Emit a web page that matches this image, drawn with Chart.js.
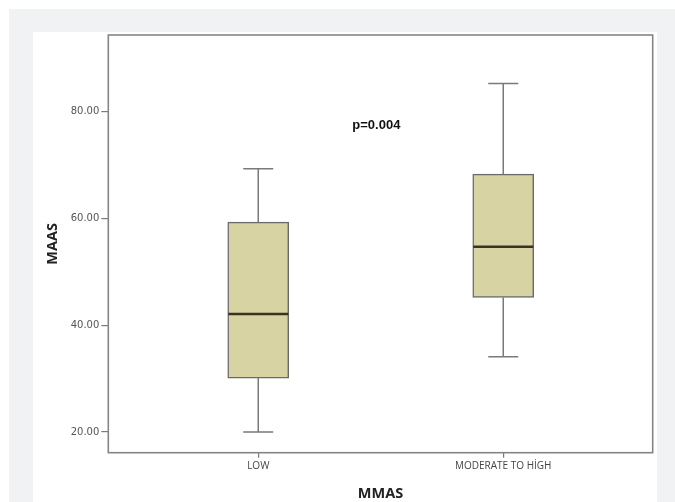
<!DOCTYPE html>
<html>
<head>
<meta charset="utf-8">
<script src="https://cdn.jsdelivr.net/npm/chart.js@4/dist/chart.umd.min.js"></script>
<style>
  html, body { margin: 0; padding: 0; background: #fff; }
  #wrap { position: relative; width: 675px; height: 502px; overflow: hidden; }
  #grey { position: absolute; left: 9px; top: 9px; right: 0; bottom: 0; background: #f1f2f4; }
  #panel { position: absolute; left: 33px; top: 32px; width: 624px; bottom: 0; background: #fff; }
  #chart { position: absolute; left: 0; top: 0; }
</style>
</head>
<body>
<div id="wrap">
  <div id="grey"></div>
  <div id="panel"></div>
  <canvas id="chart" width="675" height="502"></canvas>
</div>
<script>
// Box plot values
const categories = ['LOW', 'MODERATE TO HİGH'];
const mins = [20, 34.1];
const q1s = [30.1, 45.2];
const medians = [42.1, 54.7];
const q3s = [59.3, 68.3];
const maxs = [69.3, 85.3];
const yTickValues = [20, 40, 60, 80];
const pText = 'p=0.004';

const lineGrey = '#7a7a7a';

// whiskers, caps and medians drawn through the chart scales
const boxExtras = {
    id: 'boxExtras',
    afterDatasetsDraw(chart) {
        const ctx = chart.ctx;
        const xs = chart.scales.x;
        const ys = chart.scales.y;
        ctx.save();
        categories.forEach((c, i) => {
            const cx = xs.getPixelForValue(i);
            ctx.strokeStyle = lineGrey;
            ctx.lineWidth = 1.5;
            ctx.beginPath();
            ctx.moveTo(cx, ys.getPixelForValue(q3s[i]));
            ctx.lineTo(cx, ys.getPixelForValue(maxs[i]));
            ctx.moveTo(cx, ys.getPixelForValue(q1s[i]));
            ctx.lineTo(cx, ys.getPixelForValue(mins[i]));
            ctx.moveTo(cx - 15, ys.getPixelForValue(maxs[i]));
            ctx.lineTo(cx + 15, ys.getPixelForValue(maxs[i]));
            ctx.moveTo(cx - 15, ys.getPixelForValue(mins[i]));
            ctx.lineTo(cx + 15, ys.getPixelForValue(mins[i]));
            ctx.stroke();
            // median
            ctx.strokeStyle = '#3a3322';
            ctx.lineWidth = 2.5;
            ctx.beginPath();
            ctx.moveTo(cx - 30, ys.getPixelForValue(medians[i]));
            ctx.lineTo(cx + 30, ys.getPixelForValue(medians[i]));
            ctx.stroke();
        });
        // frame round the plot
        const a = chart.chartArea;
        ctx.strokeStyle = '#858585';
        ctx.lineWidth = 1.6;
        ctx.strokeRect(a.left, a.top, a.right - a.left, a.bottom - a.top);
        // p value
        ctx.fillStyle = '#111';
        ctx.font = 'bold 13px "Liberation Sans", Arial, sans-serif';
        ctx.textAlign = 'center';
        ctx.textBaseline = 'middle';
        ctx.fillText(pText, xs.getPixelForValue(0.482), ys.getPixelForValue(77.5));
        ctx.restore();
    }
};

const ctx = document.getElementById('chart').getContext('2d');
new Chart(ctx, {
    type: 'bar',
    data: {
        datasets: [{
            data: categories.map((c, i) => ({ x: i, y: [q1s[i], q3s[i]] })),
            backgroundColor: '#d8d3a2',
            borderColor: '#6a6a6a',
            borderWidth: 1.5,
            borderSkipped: false,
            barThickness: 61
        }]
    },
    options: {
        responsive: false,
        animation: false,
        layout: { padding: { left: 0, top: 35, right: 22.3, bottom: 0 } },
        plugins: { legend: { display: false }, tooltip: { enabled: false } },
        scales: {
            x: {
                type: 'linear',
                offset: false,
                min: -0.612,
                max: 1.61,
                afterFit: s => { s.height = 49.3; },
                afterBuildTicks: s => { s.ticks = categories.map((c, i) => ({ value: i })); },
                grid: { offset: false, drawOnChartArea: false, color: lineGrey, lineWidth: 1.2, tickLength: 5 },
                border: { display: false },
                ticks: {
                    callback: v => categories[v],
                    color: '#444',
                    font: { family: '"Open Sans", sans-serif', size: 10 },
                    padding: 2,
                    maxRotation: 0
                },
                title: {
                    display: true,
                    text: 'MMAS',
                    color: '#222',
                    font: { family: '"Open Sans", sans-serif', size: 14.5, weight: 'bold', lineHeight: 1 },
                    padding: { top: 0, bottom: 0.5 }
                }
            },
            y: {
                min: 16.12,
                max: 94.37,
                afterFit: s => { s.width = 108.3; },
                afterBuildTicks: s => { s.ticks = yTickValues.map(v => ({ value: v })); },
                grid: { drawOnChartArea: false, color: lineGrey, lineWidth: 1.2, tickLength: 7 },
                border: { display: false },
                ticks: {
                    callback: v => v.toFixed(2),
                    color: '#555',
                    font: { family: '"DejaVu Sans", sans-serif', size: 10 },
                    padding: 2
                },
                title: {
                    display: true,
                    text: 'MAAS',
                    color: '#222',
                    font: { family: '"Open Sans", sans-serif', size: 14.5, weight: 'bold', lineHeight: 1 },
                    padding: { top: 46, bottom: 0 }
                }
            }
        }
    },
    plugins: [boxExtras]
});
</script>
</body>
</html>
